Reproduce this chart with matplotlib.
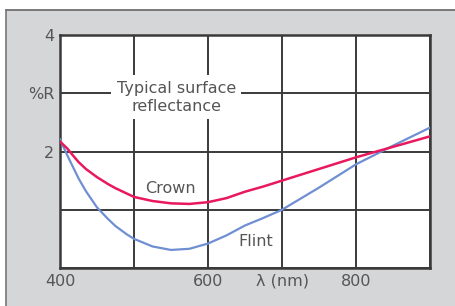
import matplotlib
matplotlib.use('Agg')
import matplotlib.pyplot as plt
import matplotlib.patches as patches
from matplotlib.lines import Line2D

# data
wavelength = [400, 405, 410, 415, 425, 435, 450, 465, 475, 490, 500, 525, 550,
              575, 600, 625, 650, 675, 700, 750, 800, 850, 900]
crown = [2.17, 2.11, 2.05, 1.97, 1.82, 1.70, 1.56, 1.44, 1.37, 1.28, 1.22, 1.15, 1.11,
         1.10, 1.13, 1.20, 1.31, 1.40, 1.50, 1.70, 1.90, 2.08, 2.26]
flint = [2.21, 2.07, 1.93, 1.80, 1.54, 1.32, 1.04, 0.84, 0.72, 0.58, 0.50, 0.37, 0.31,
         0.33, 0.42, 0.56, 0.73, 0.86, 1.00, 1.38, 1.78, 2.10, 2.41]

x_ticks = [400, 500, 600, 700, 800, 900]
x_labels = ['400', '', '600', 'λ (nm)', '800', '']
y_ticks = [0, 1, 2, 3, 4]
y_labels = ['', '', '2', '%R', '4']

W, H = 455, 306
fig = plt.figure(figsize=(W / 100, H / 100), dpi=100, facecolor='white')

# gray panel with a dark top and left edge
bg = '#d5d6d8'
fig.add_artist(patches.Rectangle((6 / W, 0), 1, (H - 10) / H, transform=fig.transFigure,
                                 fc=bg, ec='none', zorder=-10))
fig.add_artist(Line2D([6 / W, 1], [(H - 10) / H] * 2, transform=fig.transFigure,
                      color='#666666', lw=1.2, zorder=-9))
fig.add_artist(Line2D([6 / W] * 2, [0, (H - 10) / H], transform=fig.transFigure,
                      color='#777777', lw=1.2, zorder=-9))

ax = fig.add_axes([60 / W, (H - 268) / H, (430 - 60) / W, (268 - 35) / H])
ax.set_zorder(5)
ax.set_facecolor('white')
ax.set_xlim(400, 900)
ax.set_ylim(0, 4)

grid_c = '#3a3a3a'
ax.grid(True, color=grid_c, lw=1.4, zorder=1)
ax.set_axisbelow(True)
for s in ax.spines.values():
    s.set_color(grid_c)
    s.set_linewidth(1.8)

ax.set_xticks(x_ticks)
ax.set_xticklabels(x_labels)
ax.set_yticks(y_ticks)
ax.set_yticklabels(y_labels)
ax.tick_params(length=0, labelsize=11.5, labelcolor='#555555', pad=4)

ax.plot(wavelength, flint, color='#6f8fd2', lw=1.6, zorder=3)
ax.plot(wavelength, crown, color='#e8195c', lw=1.8, zorder=4)

ax.text(557, 2.93, 'Typical surface\nreflectance', ha='center', va='center',
        fontsize=11.5, color='#555555', linespacing=1.25, zorder=5,
        bbox=dict(fc='white', ec='none', pad=4))
ax.text(549, 1.36, 'Crown', ha='center', va='center', fontsize=11.5, color='#555555', zorder=5)
ax.text(665, 0.45, 'Flint', ha='center', va='center', fontsize=11.5, color='#555555', zorder=5)

plt.savefig('out.png', dpi=100, facecolor='white')
plt.close()
